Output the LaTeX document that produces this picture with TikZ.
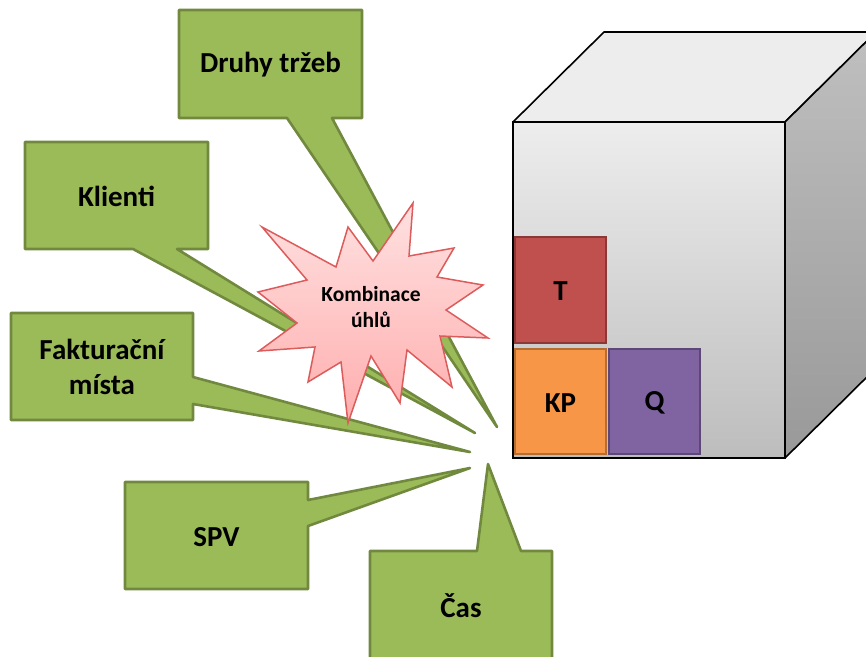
\documentclass[tikz,border=0pt]{standalone}
\usepackage{fontspec}
\setmainfont{Carlito}
\begin{document}
\begin{tikzpicture}[x=1pt,y=-1pt,
  callout/.style={fill=calloutfill,draw=calloutline,line width=2.6pt,line join=round},
  label/.style={font=\bfseries\fontsize{29}{35}\selectfont,align=center,inner sep=0pt},
  tile/.style={line width=2.6pt},
]
\definecolor{calloutfill}{HTML}{9BBB59}
\definecolor{calloutline}{HTML}{71893F}
\definecolor{starline}{HTML}{DC5B5B}
\definecolor{tred}{HTML}{C0504D}
\definecolor{tredline}{HTML}{8C3836}
\definecolor{korange}{HTML}{F79646}
\definecolor{korangeline}{HTML}{B66D31}
\definecolor{qpurple}{HTML}{8064A2}
\definecolor{qpurpleline}{HTML}{5C4776}

\useasboundingbox (0,0) rectangle (866,656);
\clip (0,0) rectangle (866,656);

% focus points of the callout tails
\coordinate (fDruhy) at (497,427);
\coordinate (fKlienti) at (475,433);
\coordinate (fFakt) at (470,452);
\coordinate (fSPV) at (470,468);
\coordinate (fCas) at (488,464);

% callouts
\path[callout] (179,10) -- (362,10) -- (362,118) -- (332,118) -- (fDruhy) -- (287,118) -- (179,118) -- cycle;
\path[callout] (25,142) -- (208,142) -- (208,249) -- (177,249) -- (fKlienti) -- (133,249) -- (25,249) -- cycle;
\path[callout] (11,313) -- (193,313) -- (193,377) -- (fFakt) -- (193,404) -- (193,420) -- (11,420) -- cycle;
\path[callout] (125,482) -- (308,482) -- (308,500) -- (fSPV) -- (308,526) -- (308,589) -- (125,589) -- cycle;
\path[callout] (370,551) -- (477,551) -- (fCas) -- (521,551) -- (552,551) -- (552,662) -- (370,662) -- cycle;

\node[label] (druhy) at (270.5,65) {Druhy tržeb};
\node[label] (klienti) at (116.5,196) {Klienti};
\node[label] (fakt) at (102,367) {Fakturační\\místa};
\node[label] (spv) at (216.5,537) {SPV};
\node[label] (cas) at (461,606) {Čas};

% explosion
\path[top color=red!12!white,bottom color=red!32!white,draw=starline,line width=1.5pt,line join=miter]
  (262,227) -- (336,267) -- (348,227) -- (373,261) -- (413,203) -- (409,256) --
  (454,248) -- (437,277) -- (483,285) -- (446,310) -- (488,338) -- (440,336) --
  (452,387) -- (407,350) -- (400,403) -- (371,356) -- (348,423) -- (341,362) --
  (308,382) -- (315,347) -- (259,351) -- (297,323) -- (258,292) -- (307,280) -- cycle;
\node[font=\bfseries\fontsize{21.5}{26}\selectfont,align=center,inner sep=0pt] (komb) at (371,307) {Kombinace\\úhlů};

% cube
\path[fill=black!7,draw=black,line width=1.6pt,line join=round] (513,122) -- (604,32) -- (876,32) -- (785,122) -- cycle;
\path[top color=black!25,bottom color=black!40,draw=black,line width=1.6pt,line join=round] (785,122) -- (876,32) -- (876,368) -- (785,458) -- cycle;
\path[top color=black!7,bottom color=black!26,draw=black,line width=1.6pt] (513,122) rectangle (785,458);

% tiles on the front face
\path[tile,fill=tred,draw=tredline] (515,237) rectangle (606,343);
\path[tile,fill=korange,draw=korangeline] (515,349) rectangle (606,454);
\path[tile,fill=qpurple,draw=qpurpleline] (609,349) rectangle (700,454);
\node[label] (t) at (560.5,291) {T};
\node[label] (kp) at (560.5,403) {KP};
\node[label] (q) at (654.5,403) {Q};
\end{tikzpicture}
\end{document}
